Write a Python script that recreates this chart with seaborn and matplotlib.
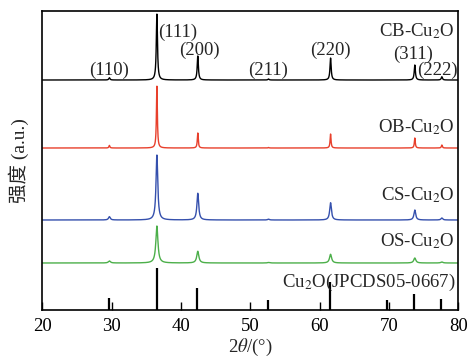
import numpy as np
import pandas as pd
import matplotlib
matplotlib.use("Agg")
import matplotlib.pyplot as plt
import seaborn as sns

# ---- data ----
hkl = ["(110)", "(111)", "(200)", "(211)", "(220)", "(311)", "(222)"]
peak_pos = [29.65, 36.5, 42.4, 52.6, 61.55, 73.7, 77.6]

samples = ["CB-Cu$_2$O", "OB-Cu$_2$O", "CS-Cu$_2$O", "OS-Cu$_2$O"]
colors = ["#000000", "#e8402c", "#3550ad", "#4caf4a"]
offsets = [230, 162, 90, 47]          # baseline of each trace (a.u.)
widths = [0.10, 0.08, 0.15, 0.18]     # half width of peaks (deg)
cb_int = [2.3, 66, 24, 1.0, 22, 15, 3.3]
ob_int = [2.6, 62, 15, 0.5, 14, 10, 3.0]
cs_int = [3.3, 65, 26.7, 0.8, 17.3, 10, 2.0]
os_int = [2.0, 37, 11.7, 0.5, 8.7, 5, 1.0]
intensities = [cb_int, ob_int, cs_int, os_int]

# standard pattern sticks (JCPDS 05-0667)
ref_pos = [29.6, 36.45, 42.35, 52.55, 61.5, 69.7, 73.65, 77.55]
ref_int = [12, 42, 22, 10, 28, 10, 16, 11]

# ---- build traces from peak lists ----
x = np.linspace(20, 80, 4000)
frames = []
for name, off, w, ints in zip(samples, offsets, widths, intensities):
    y = np.full_like(x, off, dtype=float)
    for p, h in zip(peak_pos, ints):
        y += h / (1 + ((x - p) / w) ** 2)
    frames.append(pd.DataFrame({"two_theta": x, "intensity": y, "sample": name}))
df = pd.concat(frames, ignore_index=True)

sns.set_theme(style="white")
plt.rcParams["font.family"] = ["Liberation Serif", "Noto Sans CJK SC", "DejaVu Sans"]
plt.rcParams["mathtext.fontset"] = "stix"

fig = plt.figure(figsize=(4.70, 3.61), dpi=100)
ax = fig.add_axes([0.0904, 0.1413, 0.8851, 0.8282])

sns.lineplot(data=df, x="two_theta", y="intensity", hue="sample",
             palette=dict(zip(samples, colors)), hue_order=samples,
             linewidth=1.0, legend=False, ax=ax, estimator=None, sort=False)

ax.vlines(ref_pos, 0, ref_int, colors="black", linewidth=1.6)

ax.set_xlim(20, 80)
ax.set_ylim(0, 299)
ax.set_xticks([20, 30, 40, 50, 60, 70, 80])
ax.set_yticks([])
ax.tick_params(axis="x", direction="in", length=6, width=1.0, labelsize=13.5,
               pad=6, bottom=True, colors="black")
for s in ax.spines.values():
    s.set_color("black")
    s.set_linewidth(1.2)

ax.set_xlabel(r"2$\theta$/(°)", fontsize=13.5, labelpad=1)
ax.set_ylabel("强度 (a.u.)", fontsize=14, labelpad=10)

fs = 13.5
# hkl labels
ax.text(29.6, 240, "(110)", ha="center", va="center", fontsize=fs)
ax.text(36.65, 277.5, "(111)", ha="left", va="center", fontsize=fs)
ax.text(42.6, 260, "(200)", ha="center", va="center", fontsize=fs)
ax.text(52.5, 240, "(211)", ha="center", va="center", fontsize=fs)
ax.text(61.5, 260, "(220)", ha="center", va="center", fontsize=fs)
ax.text(73.4, 256, "(311)", ha="center", va="center", fontsize=fs)
ax.text(77.0, 240, "(222)", ha="center", va="center", fontsize=fs)

# sample labels
label_y = [279, 183, 115, 69]
for name, ly in zip(samples, label_y):
    ax.text(79.5, ly, name, ha="right", va="center", fontsize=fs)
ax.text(79.5, 28, "Cu$_2$O(JPCDS05-0667)", ha="right", va="center", fontsize=fs)

fig.savefig("out.png", dpi=100)
